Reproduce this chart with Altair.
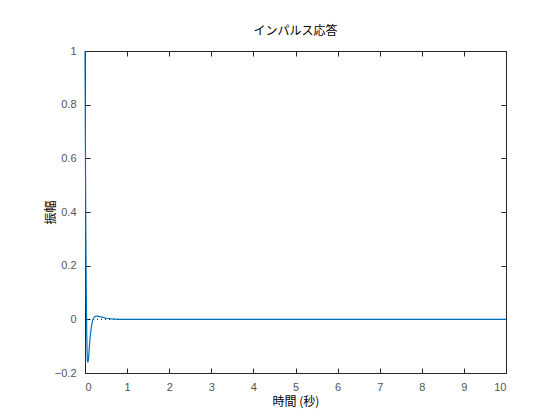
import altair as alt
import pandas as pd

# Impulse response
time_s = [0.0, 0.01, 0.02, 0.03, 0.04, 0.05, 0.06, 0.07, 0.08, 0.10, 0.12,
          0.15, 0.18, 0.21, 0.25, 0.30, 0.35, 0.40, 0.45, 0.50, 0.60, 0.70,
          0.80, 0.90, 1.0, 2.0, 4.0, 6.0, 8.0, 10.0]
amplitude = [1.0, 0.62, 0.32, 0.10, -0.04, -0.12, -0.155, -0.16, -0.15, -0.11,
             -0.07, -0.03, -0.005, 0.006, 0.011, 0.012, 0.010, 0.008, 0.006,
             0.004, 0.002, 0.001, 0.0, 0.0, 0.0, 0.0, 0.0, 0.0, 0.0, 0.0]
ref_t = [0.0, 10.0]
ref_y = [0.0, 0.0]

x_ticks = [0, 1, 2, 3, 4, 5, 6, 7, 8, 9, 10]
y_ticks = [-0.2, 0, 0.2, 0.4, 0.6, 0.8, 1]

FONT = "Noto Sans CJK JP"
LAB = "#555555"

df = pd.DataFrame({"t": time_s, "y": amplitude})
ref = pd.DataFrame({"t": ref_t, "y": ref_y})

xs = alt.Scale(domain=[0, 10], nice=False)
ys = alt.Scale(domain=[-0.2, 1], nice=False)

x_main = alt.X("t:Q", scale=xs, title="時間 (秒)",
               axis=alt.Axis(values=x_ticks, orient="bottom", offset=-5, tickSize=5,
                             domain=False, grid=False, labelPadding=8,
                             tickColor="#262626", labelColor=LAB, labelFontSize=11,
                             labelFont="Liberation Sans", titleFont=FONT,
                             titleFontSize=12, titleFontWeight="normal",
                             titleColor="#000000", titlePadding=4, format="d"))
y_main = alt.Y("y:Q", scale=ys, title="振幅",
               axis=alt.Axis(values=y_ticks, orient="left", offset=-5, tickSize=5,
                             domain=False, grid=False, labelPadding=9,
                             tickColor="#262626", labelColor=LAB, labelFontSize=11,
                             labelFont="Liberation Sans", titleFont=FONT,
                             titleFontSize=12, titleFontWeight="normal",
                             titleColor="#000000", titlePadding=-3, format="~g"))

ref_layer = alt.Chart(ref).mark_line(color="#000000", strokeDash=[1, 3],
                                     strokeWidth=1).encode(x=x_main, y=y_main)

x_top = alt.X("t:Q", scale=xs, title=None,
              axis=alt.Axis(values=x_ticks, orient="top", offset=-5, tickSize=5,
                            domain=False, grid=False, labels=False,
                            tickColor="#262626"))
y_right = alt.Y("y:Q", scale=ys, title=None,
                axis=alt.Axis(values=y_ticks, orient="right", offset=-5, tickSize=5,
                              domain=False, grid=False, labels=False,
                              tickColor="#262626"))

resp_layer = alt.Chart(df).mark_line(color="#0072BD", strokeWidth=1.2,
                                     interpolate="monotone").encode(x=x_top, y=y_right)

chart = alt.layer(ref_layer, resp_layer).resolve_axis(
    x="independent", y="independent"
).properties(
    width=421, height=322,
    title=alt.TitleParams("インパルス応答", font=FONT, fontSize=12,
                          fontWeight="normal", color="#000000", offset=7),
    autosize=alt.AutoSizeParams(type="none"),
    padding={"left": 77, "top": 43, "right": 46, "bottom": 39},
).configure_view(stroke="#262626", strokeWidth=1)

chart.save("out.html", embed_options={"renderer": "svg", "actions": False})
